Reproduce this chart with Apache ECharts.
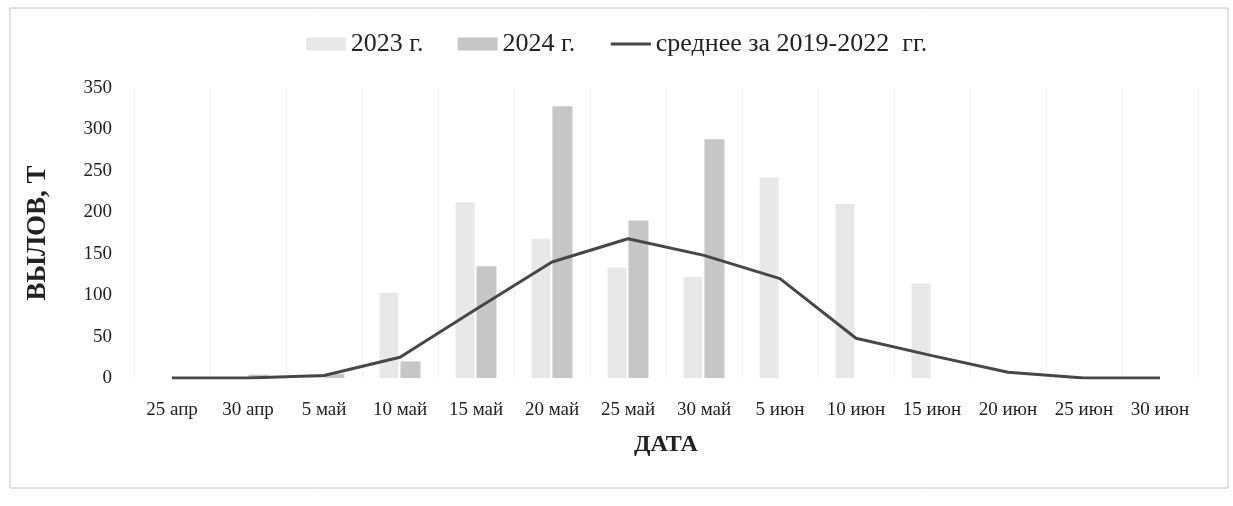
<!DOCTYPE html>
<html>
<head>
<meta charset="utf-8">
<script src="https://cdn.jsdelivr.net/npm/echarts@6/dist/echarts.min.js"></script>
<style>
html, body { margin: 0; padding: 0; background: #fff; }
#echart { width: 1233px; height: 506px; }
</style>
</head>
<body>
<div id="echart"></div>
<script>
// Data
var categories = ['25 апр', '30 апр', '5 май', '10 май', '15 май', '20 май', '25 май',
	'30 май', '5 июн', '10 июн', '15 июн', '20 июн', '25 июн', '30 июн'];
var data2023 = [0, 0, 3, 103, 212, 168, 133, 122, 242, 210, 114, 0, 0, 0];
var data2024 = [0, 4, 5, 20, 135, 328, 190, 288, 0, 0, 0, 0, 0, 0];
var avgData = [0, 0, 3, 25, 83, 140, 168, 148, 120, 48, 27, 7, 0, 0];
var yTicks = [0, 50, 100, 150, 200, 250, 300, 350];

var serif = '"Liberation Serif", "DejaVu Serif", serif';
var myChart = echarts.init(document.getElementById('echart'));

option = {
	animation: false,
	backgroundColor: '#fff',
	graphic: [{
		type: 'rect',
		shape: { x: 10, y: 8, width: 1218, height: 480 },
		style: { fill: 'none', stroke: '#c4c4c4', lineWidth: 1 },
		silent: true
	}],
	legend: {
		top: 26,
		left: 'center',
		itemGap: 34,
		itemWidth: 40,
		itemHeight: 13,
		textStyle: {
			fontFamily: serif,
			fontSize: 26,
			color: '#222'
		},
		data: [
			{ name: '2023 г.', icon: 'rect' },
			{ name: '2024 г.', icon: 'rect' },
			{
				name: 'среднее за 2019-2022  гг.',
				itemStyle: { color: 'rgba(0,0,0,0)', borderColor: 'rgba(0,0,0,0)', borderWidth: 0 },
				lineStyle: { color: '#474747', width: 3 }
			}
		]
	},
	grid: {
		left: 134,
		right: 35,
		top: 88,
		bottom: 128
	},
	xAxis: {
		type: 'category',
		data: categories,
		name: 'ДАТА',
		nameLocation: 'middle',
		nameGap: 55,
		nameTextStyle: {
			fontFamily: serif,
			fontSize: 24,
			fontWeight: 'bold',
			color: '#222'
		},
		axisLine: { show: false },
		axisTick: { show: false },
		axisLabel: {
			interval: 0,
			margin: 23,
			fontFamily: serif,
			fontSize: 19,
			color: '#222'
		},
		splitLine: {
			show: true,
			lineStyle: { color: '#f1f1f1', width: 1 }
		}
	},
	yAxis: {
		type: 'value',
		min: yTicks[0],
		max: yTicks[yTicks.length - 1],
		interval: 50,
		name: 'ВЫЛОВ, Т',
		nameLocation: 'middle',
		nameGap: 82,
		nameTextStyle: {
			fontFamily: serif,
			fontSize: 27,
			fontWeight: 'bold',
			color: '#222'
		},
		axisLine: { show: false },
		axisTick: { show: false },
		axisLabel: {
			margin: 22,
			fontFamily: serif,
			fontSize: 19,
			color: '#222'
		},
		splitLine: { show: false }
	},
	series: [{
		name: '2023 г.',
		type: 'bar',
		barWidth: 19,
		barGap: '10%',
		itemStyle: {
			color: '#e8e8e8'
		},
		data: data2023
	}, {
		name: '2024 г.',
		type: 'bar',
		barWidth: 20,
		itemStyle: {
			color: '#c6c6c6'
		},
		data: data2024
	}, {
		name: 'среднее за 2019-2022  гг.',
		type: 'line',
		symbol: 'none',
		z: 5,
		lineStyle: {
			color: '#474747',
			width: 3
		},
		itemStyle: { color: '#474747' },
		data: avgData
	}]
};
myChart.setOption(option);
</script>
</body>
</html>
